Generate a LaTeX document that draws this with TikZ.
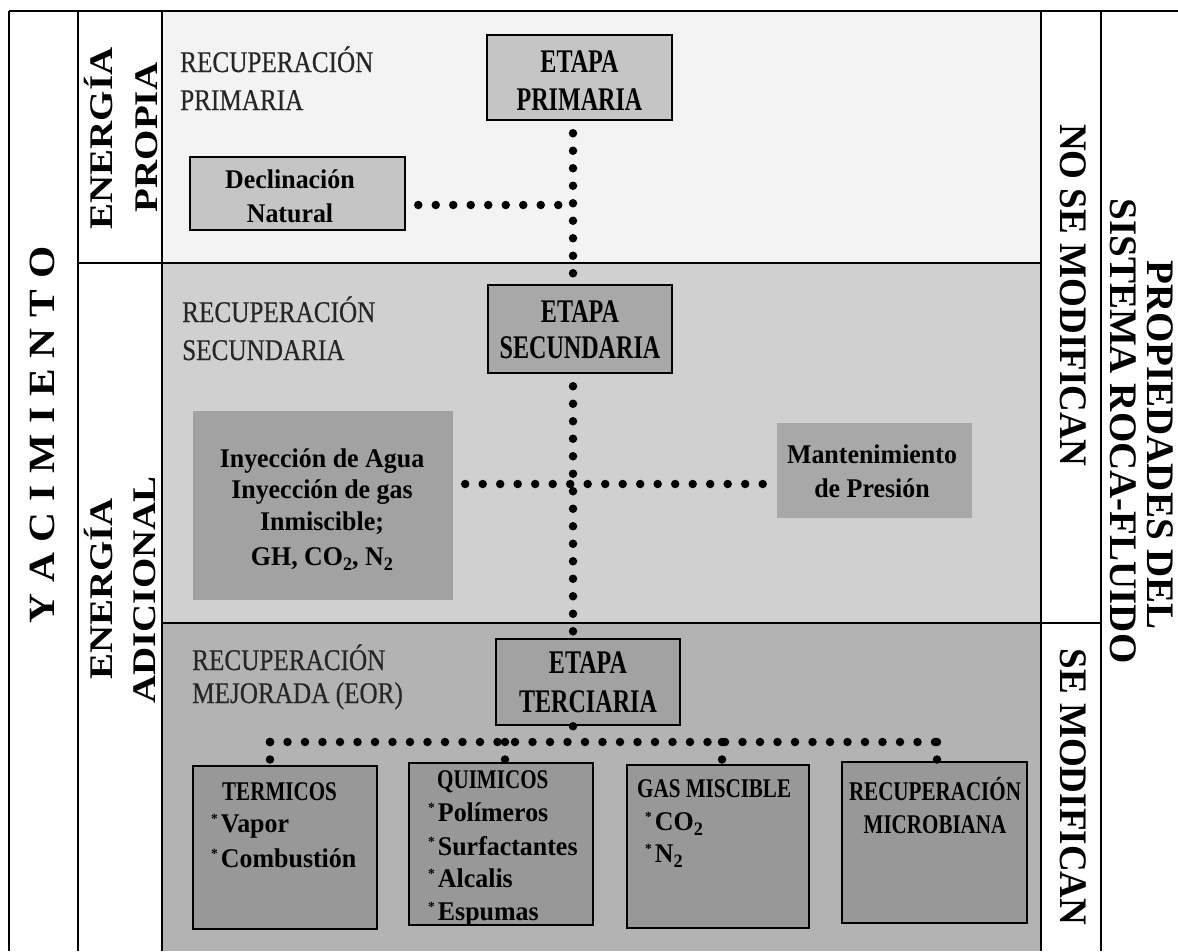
\documentclass[tikz,border=0pt]{standalone}
\usepackage{fontspec}
\setmainfont{Liberation Serif}
\newfontfamily\fntEt[FakeStretch=0.73]{Liberation Serif}
\newfontfamily\fntRec[FakeStretch=0.84,FakeBold=0.4]{Liberation Serif}
\newfontfamily\fntTit[FakeStretch=0.78]{Liberation Serif}
\newfontfamily\fntLow[FakeStretch=0.96]{Liberation Serif}
\newfontfamily\fntEn[FakeStretch=1.18]{Liberation Serif}
\newfontfamily\fntMod[FakeStretch=0.95]{Liberation Serif}
\newfontfamily\fntProp[FakeStretch=1.0]{Liberation Serif}
\newfontfamily\fntYac[FakeStretch=1.12]{Liberation Serif}
\newcommand\myast{\raisebox{9pt}{\fontsize{14}{14}\selectfont *}\hspace{3pt}}
\newcommand\sbt[1]{\raisebox{-5pt}{\fontsize{19}{19}\selectfont #1}}
\definecolor{pri}{HTML}{F3F3F3}
\definecolor{sec}{HTML}{D0D0D0}
\definecolor{ter}{HTML}{B3B3B3}
\definecolor{boxA}{HTML}{C5C5C5}
\definecolor{boxB}{HTML}{A8A8A8}
\definecolor{boxC}{HTML}{A2A2A2}
\definecolor{boxD}{HTML}{989898}
\definecolor{recgray}{HTML}{262626}
\begin{document}
\begin{tikzpicture}[x=1pt,y=-1pt,
  frame/.style={draw=black, line width=2.5pt},
  boxb/.style={draw=black, line width=2.5pt, inner sep=0pt},
  boxn/.style={draw=none, inner sep=0pt},
  dotln/.style={draw=black, line width=8.5pt, line cap=round, dash pattern=on 0pt off 17.5pt},
  tEt/.style={font=\fntEt\bfseries\fontsize{33}{38}\selectfont, inner sep=0pt, anchor=base},
  tRec/.style={font=\fntRec\fontsize{30}{36}\selectfont, text=recgray, inner sep=0pt, anchor=base west},
  tTit/.style={font=\fntTit\bfseries\fontsize{27}{32}\selectfont, inner sep=0pt, anchor=base west},
  tLow/.style={font=\fntLow\bfseries\fontsize{27}{32}\selectfont, inner sep=0pt, anchor=base},
  tLowL/.style={font=\fntLow\bfseries\fontsize{27}{32}\selectfont, inner sep=0pt, anchor=base west},
  tEn/.style={font=\fntEn\bfseries\fontsize{33}{38}\selectfont, inner sep=0pt, anchor=base, rotate=90},
  tMod/.style={font=\fntMod\bfseries\fontsize{39}{44}\selectfont, inner sep=0pt, anchor=base, rotate=-90},
  tProp/.style={font=\fntProp\bfseries\fontsize{39}{44}\selectfont, inner sep=0pt, anchor=base, rotate=-90},
  tYac/.style={font=\fntYac\bfseries\fontsize{37}{44}\selectfont, inner sep=0pt, anchor=base, rotate=90}
]
\useasboundingbox (0,0) rectangle (1178,951);
\fill[white] (0,0) rectangle (1178,951);
% panels
\fill[pri] (162,11) rectangle (1041,263);
\fill[sec] (162,263) rectangle (1041,623);
\fill[ter] (162,623) rectangle (1041,951);
% frame lines
\draw[frame] (9,11) -- (1178,11);
\draw[frame] (9,11) -- (9,951);
\draw[frame] (78,11) -- (78,951);
\draw[frame] (162,11) -- (162,951);
\draw[frame] (1041,11) -- (1041,951);
\draw[frame] (1101,11) -- (1101,951);
\draw[frame] (78,263) -- (1041,263);
\draw[frame] (162,623) -- (1101,623);

% boxes
\node[boxb, fill=boxA, minimum width=185, minimum height=85] (ep) at (579.5,77.5) {};
\node[boxb, fill=boxA, minimum width=215, minimum height=73] (decl) at (297.5,193.5) {};
\node[boxb, fill=boxB, minimum width=184, minimum height=88] (es) at (580,329) {};
\node[boxn, fill=boxC, minimum width=260, minimum height=189] (iny) at (323,505.5) {};
\node[boxn, fill=boxB, minimum width=195, minimum height=95] (mant) at (874.5,470.5) {};
\node[boxb, fill=boxC, minimum width=184, minimum height=86] (et) at (588,682) {};
\node[boxb, fill=boxD, minimum width=184, minimum height=163] (term) at (285,847.5) {};
\node[boxb, fill=boxD, minimum width=184, minimum height=162] (quim) at (501,844) {};
\node[boxb, fill=boxD, minimum width=182, minimum height=163] (gas) at (718,846.5) {};
\node[boxb, fill=boxD, minimum width=185, minimum height=161] (micro) at (934.5,842.5) {};

% connector coordinates
\coordinate (vx) at (573,0);
\coordinate (j1) at (573,205);
\coordinate (j2) at (573,484);
\coordinate (j3) at (573,742);
\coordinate (j4) at (270,742);
\coordinate (j5) at (937,742);
\coordinate (j6) at (505,742);
\coordinate (j7) at (722,742);

% connectors
\draw[dotln, shorten <=12pt] (ep.south -| vx) -- (es.north -| vx);
\draw[dotln, shorten <=12pt] (decl.east |- j1) -- (j1);
\draw[dotln, shorten <=12pt] (es.south -| vx) -- (et.north -| vx);
\draw[dotln, shorten <=12pt, shorten >=2pt] (iny.east |- j2) -- (mant.west |- j2);
\draw[dotln] (et.south -| vx) -- (j3);
\draw[dotln] (j4) -- (j5);
\draw[dotln] (j4) -- (j4 |- term.north);
\draw[dotln] (j6) -- (j6 |- quim.north);
\draw[dotln] (j7) -- (j7 |- gas.north);
\draw[dotln] (j5) -- (j5 |- micro.north);

% texts: stages
\node[tEt] (epT1) at (579.5,72) {ETAPA};
\node[tEt] (epT2) at (579.5,110) {PRIMARIA};
\node[tEt] (esT1) at (580,322) {ETAPA};
\node[tEt] (esT2) at (580,358) {SECUNDARIA};
\node[tEt] (etT1) at (588,673) {ETAPA};
\node[tEt] (etT2) at (588,712) {TERCIARIA};

% recuperacion labels
\node[tRec] (rp1) at (180,72) {RECUPERACIÓN};
\node[tRec] (rp2) at (180,110) {PRIMARIA};
\node[tRec] (rs1) at (182,322) {RECUPERACIÓN};
\node[tRec] (rs2) at (182,360) {SECUNDARIA};
\node[tRec] (rt1) at (192,670) {RECUPERACIÓN};
\node[tRec] (rt2) at (192,703) {MEJORADA (EOR)};

% box texts
\node[tLow] (dT1) at (290,188) {Declinación};
\node[tLow] (dT2) at (290,222) {Natural};
\node[tLow] (iT1) at (322,467) {Inyección de Agua};
\node[tLow] (iT2) at (322,498) {Inyección de gas};
\node[tLow] (iT3) at (322,530) {Inmiscible;};
\node[tLow] (iT4) at (322,565) {GH, CO\sbt{2}, N\sbt{2}};
\node[tLow] (mT1) at (872,463) {Mantenimiento};
\node[tLow] (mT2) at (872,497) {de Presión};

\node[tTit] (tT1) at (222,800) {TERMICOS};
\node[tLowL] (tT2) at (211,832) {\myast Vapor};
\node[tLowL] (tT3) at (211,867) {\myast Combustión};

\node[tTit] (qT1) at (437,788) {QUIMICOS};
\node[tLowL] (qT2) at (428,821) {\myast Polímeros};
\node[tLowL] (qT3) at (428,855) {\myast Surfactantes};
\node[tLowL] (qT4) at (428,887) {\myast Alcalis};
\node[tLowL] (qT5) at (428,920) {\myast Espumas};

\node[tTit] (gT1) at (637,797) {GAS MISCIBLE};
\node[tLowL] (gT2) at (645,830) {\myast CO\sbt{2}};
\node[tLowL] (gT3) at (645,862) {\myast N\sbt{2}};

\node[tTit, anchor=base] (mcT1) at (935,800) {RECUPERACIÓN};
\node[tTit, anchor=base] (mcT2) at (935,833) {MICROBIANA};

% rotated side labels
\node[tYac] (yac) at (54,435) {Y\kern11pt A\kern11pt C\kern11pt I\kern11pt M\kern11pt I\kern11pt E\kern11pt N\kern11pt T\kern11pt O};
\node[tEn] (en1) at (112,138.5) {ENERGÍA};
\node[tEn] (en2) at (157,137.5) {PROPIA};
\node[tEn] (en3) at (112,589) {ENERGÍA};
\node[tEn] (en4) at (155,590) {ADICIONAL};
\node[tMod] (nsm) at (1060,295) {NO SE MODIFICAN};
\node[tMod] (sm) at (1060,787) {SE MODIFICAN};
\node[tProp] (pr1) at (1147,445) {PROPIEDADES DEL};
\node[tProp] (pr2) at (1110,431) {SISTEMA ROCA-FLUIDO};
\end{tikzpicture}
\end{document}
